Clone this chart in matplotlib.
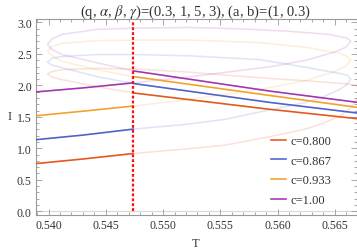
import numpy as np
import matplotlib
matplotlib.use("Agg")
import matplotlib.pyplot as plt
from matplotlib.ticker import MultipleLocator

plt.rcParams['font.family'] = ['Liberation Serif', 'DejaVu Serif']
plt.rcParams['mathtext.fontset'] = 'stix'

# ---------------- data ----------------
c_labels = ["c=0.800", "c=0.867", "c=0.933", "c=1.00"]
colors = ["#E4571E", "#4E62C8", "#F2A22C", "#A235B0"]
T_c = 0.5474  # transition temperature (dashed line)

# small (lower) branch: from left edge up to the right cusp
lower_T_080 = [0.5385, 0.5430, 0.5474, 0.5520, 0.5554, 0.5595, 0.5625, 0.5640, 0.5655, 0.5663, 0.5668, 0.5671, 0.5672]
lower_I_080 = [0.75, 0.83, 0.917, 0.99, 1.05, 1.19, 1.31, 1.40, 1.52, 1.63, 1.74, 1.84, 1.90]
lower_T_087 = [0.5385, 0.5430, 0.5474, 0.5520, 0.5554, 0.5593, 0.5625, 0.5640, 0.5654, 0.5661, 0.5664]
lower_I_087 = [1.13, 1.21, 1.305, 1.38, 1.46, 1.61, 1.73, 1.82, 1.93, 2.02, 2.10]
lower_T_093 = [0.5385, 0.5430, 0.5474, 0.5520, 0.5560, 0.5595, 0.5625, 0.5650, 0.5660, 0.5664]
lower_I_093 = [1.51, 1.59, 1.672, 1.77, 1.87, 1.97, 2.08, 2.22, 2.31, 2.40]
lower_T_100 = [0.5385, 0.5430, 0.5474, 0.5520, 0.5560, 0.5595, 0.5625, 0.5650, 0.5660, 0.5664]
lower_I_100 = [1.89, 1.96, 2.04, 2.13, 2.22, 2.30, 2.40, 2.53, 2.61, 2.70]

# middle (unstable) branch: from right cusp back to left cusp
mid_T_080 = [0.5672, 0.5671, 0.5668, 0.5650, 0.5627, 0.5593, 0.5550, 0.5523, 0.5475, 0.5442, 0.5412, 0.5403, 0.5399]
mid_I_080 = [1.90, 1.96, 2.01, 2.04, 2.07, 2.11, 2.17, 2.21, 2.26, 2.27, 2.25, 2.22, 2.18]
mid_T_087 = [0.5664, 0.5661, 0.5654, 0.5627, 0.5584, 0.5523, 0.5475, 0.5442, 0.5412, 0.5403, 0.5399]
mid_I_087 = [2.10, 2.16, 2.19, 2.28, 2.41, 2.47, 2.49, 2.49, 2.46, 2.43, 2.37]
mid_T_093 = [0.5664, 0.5661, 0.5654, 0.5627, 0.5584, 0.5523, 0.5475, 0.5442, 0.5412, 0.5403, 0.5399]
mid_I_093 = [2.40, 2.46, 2.51, 2.60, 2.68, 2.72, 2.72, 2.71, 2.67, 2.62, 2.54]
mid_T_100 = [0.5664, 0.5661, 0.5645, 0.5610, 0.5566, 0.5523, 0.5475, 0.5442, 0.5412, 0.5403, 0.5399]
mid_I_100 = [2.70, 2.75, 2.81, 2.86, 2.90, 2.92, 2.91, 2.89, 2.81, 2.74, 2.65]

# large (upper) branch: from left cusp to right edge
large_T = [0.5399, 0.5403, 0.5412, 0.5442, 0.5474, 0.5593, 0.5670]
large_I_080 = [2.18, 2.13, 2.09, 1.98, 1.88, 1.62, 1.47]
large_I_087 = [2.37, 2.32, 2.28, 2.14, 2.03, 1.73, 1.56]
large_I_093 = [2.54, 2.47, 2.38, 2.25, 2.14, 1.84, 1.65]
large_I_100 = [2.65, 2.57, 2.49, 2.36, 2.23, 1.91, 1.73]

lowers = [(lower_T_080, lower_I_080), (lower_T_087, lower_I_087),
          (lower_T_093, lower_I_093), (lower_T_100, lower_I_100)]
mids = [(mid_T_080, mid_I_080), (mid_T_087, mid_I_087),
        (mid_T_093, mid_I_093), (mid_T_100, mid_I_100)]
larges = [large_I_080, large_I_087, large_I_093, large_I_100]

# ---------------- figure ----------------
W, H = 357, 251
fig = plt.figure(figsize=(W / 100, H / 100), dpi=100)
ax = fig.add_axes([36 / W, 1 - 216 / H, (356.5 - 36) / W, (216 - 20) / H])

frame_col = "#9a9a9a"
lw = 1.15
for (lt, li), (mt, mi), gi, col, lab in zip(lowers, mids, larges, colors, c_labels):
    lt = np.array(lt); li = np.array(li)
    mt = np.array(mt); mi = np.array(mi)
    gt = np.array(large_T); gi = np.array(gi)
    # faint full curve
    ax.plot(np.concatenate([lt, mt, gt]), np.concatenate([li, mi, gi]),
            color=col, alpha=0.17, lw=lw, zorder=2)
    # stable parts
    m1 = lt <= T_c + 1e-9
    ax.plot(lt[m1], li[m1], color=col, lw=lw, zorder=3, label=lab)
    m2 = gt >= T_c - 1e-9
    ax.plot(gt[m2], gi[m2], color=col, lw=lw, zorder=3)

ax.vlines(T_c, 0.0, 3.0, color="#FF1010", lw=1.6, linestyles=[(0, (1.3, 0.9))], zorder=4)
ax.axhline(0, color="#d8d8d8", lw=0.8, zorder=1)

ax.set_xlim(0.5389, 0.5669)
ax.set_ylim(-0.06, 3.055)

ax.xaxis.set_major_locator(MultipleLocator(0.005))
ax.xaxis.set_minor_locator(MultipleLocator(0.001))
ax.yaxis.set_major_locator(MultipleLocator(0.5))
ax.yaxis.set_minor_locator(MultipleLocator(0.1))
ax.xaxis.set_major_formatter(plt.FuncFormatter(lambda v, p: f"{v:.3f}"))
ax.yaxis.set_major_formatter(plt.FuncFormatter(lambda v, p: f"{v:.1f}"))

ax.tick_params(which="both", direction="in", top=True, right=True,
               color=frame_col, labelsize=8.5, labelcolor="#333333", width=0.6)
ax.tick_params(which="major", length=4, pad=3)
ax.tick_params(which="minor", length=2)
for s in ax.spines.values():
    s.set_color(frame_col)
    s.set_linewidth(0.8)

fig.text(196 / W, 1 - 12 / H,
         r"(q, $\alpha$, $\beta$, $\gamma$)=(0.3, 1, 5, 3), (a, b)=(1, 0.3)",
         ha="center", va="center", fontsize=10.5, color="#333333")
fig.text(196 / W, 1 - 244 / H, "T", ha="center", va="center", fontsize=9, color="#333333")
fig.text(10 / W, 1 - 117 / H, "I", ha="center", va="center", fontsize=9, color="#333333")

leg = ax.legend(loc="upper left", bbox_to_anchor=(271 / W, 1 - 136 / H),
                bbox_transform=fig.transFigure, frameon=False, fontsize=9,
                handlelength=1.2, handletextpad=0.35, labelspacing=0.62,
                borderpad=0, borderaxespad=0)
for t in leg.get_texts():
    t.set_color("#333333")

fig.savefig("out.png", dpi=100)
